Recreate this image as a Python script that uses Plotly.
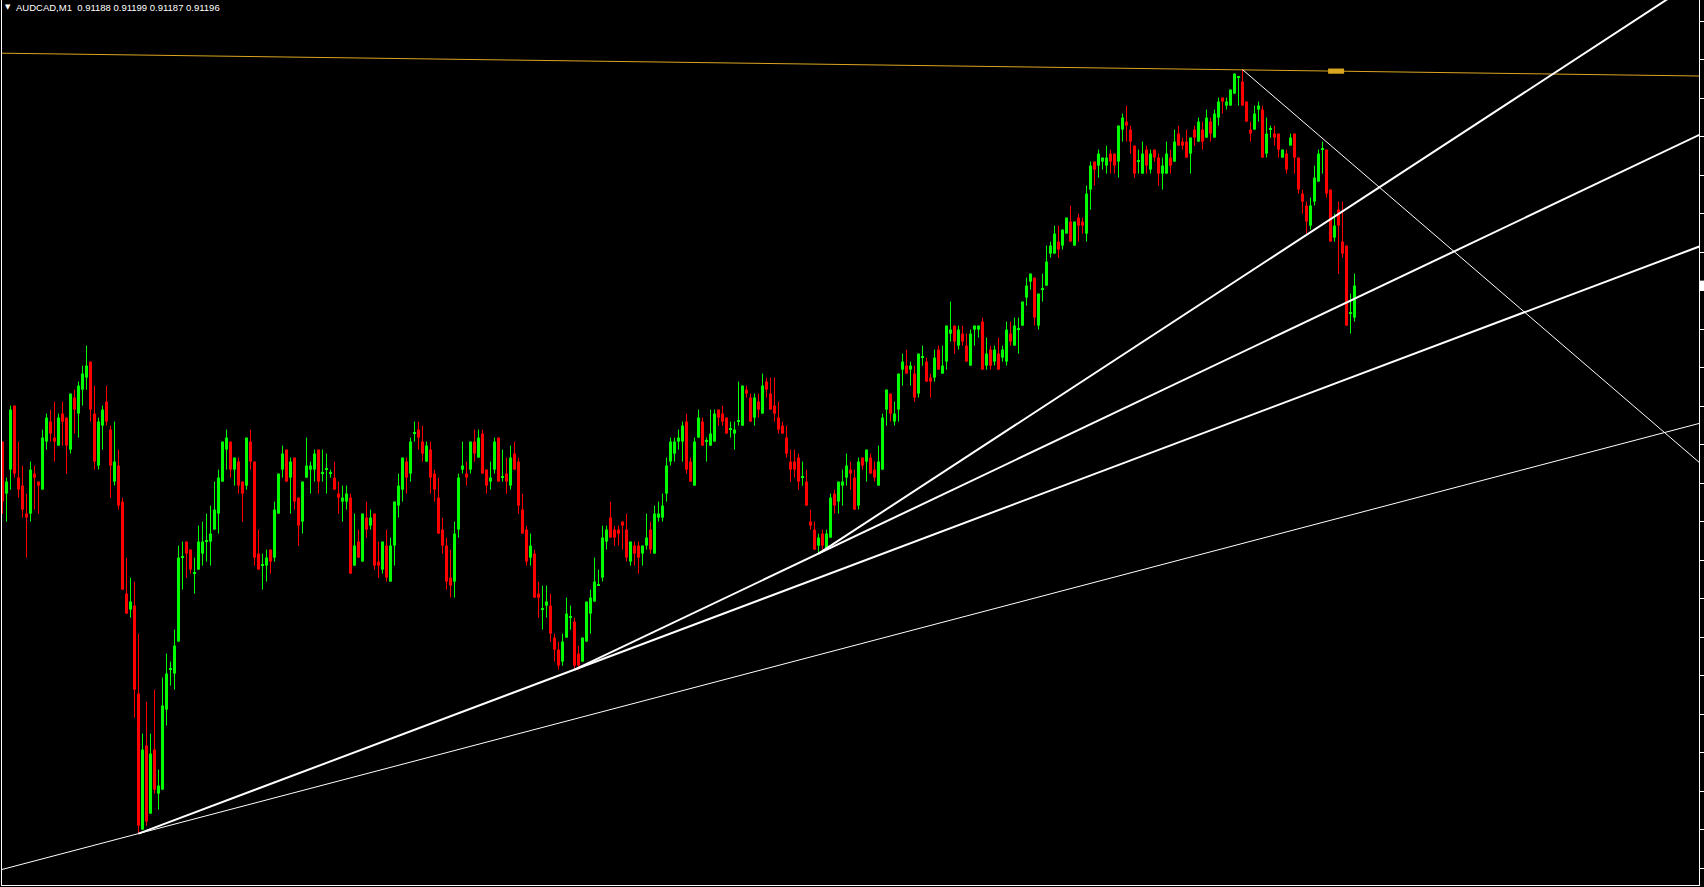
import plotly.graph_objects as go

SYMBOL = "AUDCAD"
TIMEFRAME = "M1"
PRICE_BASE = 0.91      # prices below are stored as points above this base
POINT = 0.00001

open_pts = [
    157,144,150,166,148,146,139,139,149,147, 145,157,162,158,156,164,163,155,168,164,
    170,173,177,164,151,161,167,160,147,151, 142,119,115,116,94,60,81,64,80,69,
    70,90,100,99,107,128,132,130,124,125, 129,132,132,135,139,147,155,157,150,152,
    147,146,157,152,129,126,126,130,128,139, 150,155,148,153,143,137,148,150,150,155,
    149,150,149,148,144,142,142,143,126,132, 127,138,136,139,127,125,131,122,131,141,
    145,152,149,159,160,157,152,155,149,143, 135,131,123,122,135,150,149,150,157,153,
    159,150,147,150,158,148,149,146,154,152, 140,135,128,129,119,115,116,116,108,105,
    102,108,113,112,104,102,107,114,117,121, 123,132,138,135,135,137,135,127,131,131,
    129,131,135,129,138,138,144,152,154,157, 157,162,152,146,158,162,157,156,157,165,
    164,163,160,159,162,161,170,168,163,167, 164,172,169,166,163,161,158,152,152,153,
    148,147,137,135,131,134,130,133,144,142, 146,148,150,148,141,153,152,153,150,146,
    150,165,169,162,165,175,176,175,174,169, 178,177,173,173,180,174,177,184,186,181,
    184,181,176,185,185,187,176,180,177,179, 178,177,184,181,185,186,193,197,198,186,
    195,196,204,204,207,206,209,212,206,213, 212,209,220,227,226,227,226,229,229,227,
    235,237,235,231,227,224,230,225,230,228, 224,224,228,227,234,232,232,229,235,232,
    235,233,237,233,238,243,241,241,244,248, 247,242,235,235,240,240,229,235,234,234,
    228,229,231,234,228,219,216,211,217,222, 230,230,220,208,215,207,206,189,188,
]
high_pts = [
    157,148,166,166,157,151,144,152,151,147, 160,164,165,167,164,167,163,169,170,172,
    176,181,177,171,163,166,171,161,162,155, 143,128,123,122,109,84,92,84,95,75,
    98,104,102,110,131,132,132,130,128,136, 137,139,141,147,150,157,160,157,153,153,
    147,158,160,152,135,129,130,130,142,149, 156,155,153,153,143,147,158,152,155,155,
    155,154,150,152,147,146,146,144,139,135, 139,142,140,139,132,132,135,133,142,149,
    153,153,158,162,162,161,157,157,150,148, 138,133,130,137,149,157,152,157,160,160,
    160,150,152,158,158,155,153,156,157,153, 144,136,134,130,122,121,121,119,109,107,
    109,118,116,113,106,108,117,120,128,125, 136,136,142,136,136,137,139,132,132,132,
    131,139,137,141,142,144,153,158,158,160, 162,164,153,158,165,163,158,165,165,165,
    166,163,162,162,172,171,171,169,169,169, 174,173,173,173,167,162,161,155,155,154,
    152,150,140,137,134,135,135,144,145,147, 150,154,152,150,153,153,155,154,152,156,
    164,170,169,167,174,179,180,177,176,179, 181,178,174,180,181,181,186,192,186,186,
    186,184,185,186,186,188,183,181,181,183, 181,187,187,188,188,192,198,199,198,194,
    199,206,207,211,211,210,213,216,212,214, 213,221,227,227,230,228,231,230,229,236,
    239,241,236,231,230,232,231,230,230,229, 228,232,230,235,236,233,235,233,236,238,
    237,240,238,240,243,243,243,245,249,248, 250,242,237,241,242,241,238,236,236,234,
    230,230,234,234,228,220,217,218,226,230, 232,230,220,214,217,217,206,194,199,
]
low_pts = [
    139,137,145,148,143,138,128,137,140,139, 145,155,157,152,156,156,149,154,159,158,
    166,170,162,150,150,155,161,143,146,140, 120,114,113,88,59,60,61,64,69,65,
    70,86,96,95,107,120,123,124,119,125, 126,127,126,135,134,147,150,148,146,144,
    137,145,150,126,125,120,122,124,127,139, 148,147,139,140,131,134,148,144,147,144,
    147,144,148,145,139,137,140,124,126,128, 127,133,135,125,123,124,122,122,126,138,
    142,144,147,157,155,152,152,144,142,134, 129,120,118,118,133,149,146,149,152,153,
    149,144,145,149,147,147,144,145,150,139, 134,126,126,118,113,110,113,107,102,100,
    101,108,110,100,100,102,107,109,117,121, 122,130,133,131,131,130,127,126,126,124,
    126,130,129,129,137,137,142,151,152,155, 152,149,147,146,158,156,152,156,157,161,
    161,159,158,155,161,161,168,162,161,163, 164,168,165,162,159,159,153,147,148,145,
    146,141,135,130,129,130,130,133,139,139, 141,146,145,140,140,150,147,149,147,146,
    150,161,162,161,162,171,174,171,167,168, 176,172,168,172,175,174,175,182,179,180,
    181,177,176,181,183,175,175,175,176,175, 177,176,181,181,179,186,191,195,186,185,
    192,196,203,204,203,205,209,207,206,207, 209,207,215,221,223,225,224,224,224,223,
    232,232,229,223,224,224,224,224,227,221, 220,224,224,227,231,230,228,224,231,232,
    230,233,232,233,236,239,240,241,244,241, 241,237,232,235,237,228,228,233,231,228,
    228,224,231,224,219,214,209,210,216,222, 224,218,207,207,199,203,186,184,187,
]
close_pts = [
    142,147,165,149,145,140,138,150,148,146, 158,163,159,157,163,162,156,169,165,171,
    174,176,165,152,162,165,162,151,152,141, 120,114,117,95,61,80,62,79,70,71,
    91,99,100,106,128,128,129,125,124,132, 132,132,134,140,148,157,158,150,153,146,
    144,158,152,128,125,126,128,127,140,149, 154,147,152,142,136,147,151,151,154,147,
    149,150,149,145,143,143,144,124,131,128, 139,135,138,126,126,132,123,131,142,146,
    153,148,157,159,158,154,156,148,145,134, 131,122,121,134,148,151,148,157,154,158,
    149,146,148,157,147,148,147,153,150,141, 134,127,131,118,118,115,117,109,105,101,
    107,114,113,101,101,108,117,118,122,121, 133,135,133,133,134,136,128,132,129,128,
    131,133,130,139,139,141,151,157,157,158, 161,150,147,157,163,156,157,159,164,163,
    162,159,160,160,162,171,169,162,168,165, 171,170,165,164,160,159,154,150,150,147,
    148,141,136,130,133,131,134,143,141,147, 147,151,149,140,152,151,155,149,148,152,
    163,170,164,164,174,177,174,176,168,179, 178,172,172,178,175,176,186,185,182,185,
    182,177,184,186,186,175,179,176,180,175, 180,185,182,186,185,192,196,199,188,194,
    195,202,206,209,205,210,213,207,212,211, 211,219,226,225,229,228,228,227,226,236,
    238,236,232,224,227,229,226,229,228,224, 226,229,226,232,231,231,228,233,233,237,
    232,238,234,239,242,242,242,245,249,248, 241,237,234,239,241,228,234,235,233,230,
    230,225,233,228,220,217,212,216,223,229, 230,219,207,211,211,204,186,189,196,
]

n = len(close_pts)
assert len(open_pts) == n and len(high_pts) == n and len(low_pts) == n, (len(open_pts), len(high_pts), len(low_pts), n)

# Trendline anchors: (bar index, points above base); mode: 'line' extends both ways, 'ray' extends right
trend_orange = {"bars": [0, 424], "pts": [254.1, 248.4], "mode": "line"}
trend_fall = {"bars": [310, 330], "pts": [250, 232.8], "mode": "ray"}
trend_thin_up = {"bars": [34, 424], "pts": [59, 161.5], "mode": "line"}
trend_l1 = {"bars": [34, 143], "pts": [59, 100], "mode": "ray"}
trend_l2 = {"bars": [143, 204], "pts": [100, 129], "mode": "ray"}
trend_l3 = {"bars": [204, 300], "pts": [129, 191.7], "mode": "ray"}

# view: bars shown to the right of the last candle (chart shift)
X_MIN, X_MAX = -0.125, 424.125
Y_MIN_PTS, Y_MAX_PTS = 46.15, 267.4
TICK0_PTS, TICK_STEP_PTS = 262.15, 9.625

def price(p):
    return PRICE_BASE + p * POINT

opens = [price(v) for v in open_pts]
highs = [price(v) for v in high_pts]
lows = [price(v) for v in low_pts]
closes = [price(v) for v in close_pts]
bars = list(range(n))

UP = "#00FF00"
DOWN = "#FF0000"

fig = go.Figure()

for is_up, col in ((True, UP), (False, DOWN)):
    idx = [i for i in bars if (closes[i] >= opens[i]) == is_up]
    wx, wy = [], []
    for i in idx:
        wx += [i, i, None]
        wy += [lows[i], highs[i], None]
    fig.add_trace(go.Scatter(x=wx, y=wy, mode="lines", line=dict(color=col, width=1),
                             hoverinfo="skip", showlegend=False))
    base = [min(opens[i], closes[i]) for i in idx]
    height = [max(abs(closes[i] - opens[i]), 0.25 * POINT) for i in idx]
    fig.add_trace(go.Bar(x=idx, y=height, base=base, width=0.75,
                         marker=dict(color=col, line=dict(width=0)),
                         hoverinfo="skip", showlegend=False))

def line_pts(t):
    (x0, x1), (y0, y1) = t["bars"], t["pts"]
    slope = (y1 - y0) / (x1 - x0)
    xs = X_MIN - 2 if t["mode"] == "line" else x0
    xe = X_MAX + 2
    return [xs, xe], [price(y0 + slope * (xs - x0)), price(y0 + slope * (xe - x0))]

for t, col, w in ((trend_orange, "#DAA520", 1), (trend_thin_up, "#FFFFFF", 1),
                  (trend_fall, "#FFFFFF", 1), (trend_l1, "#FFFFFF", 2),
                  (trend_l2, "#FFFFFF", 2), (trend_l3, "#FFFFFF", 2)):
    lx, ly = line_pts(t)
    fig.add_trace(go.Scatter(x=lx, y=ly, mode="lines", line=dict(color=col, width=w),
                             hoverinfo="skip", showlegend=False))

# small selected-object handle on the orange line
(ox0, ox1), (oy0, oy1) = trend_orange["bars"], trend_orange["pts"]
hx = 333.4
hy = oy0 + (oy1 - oy0) / (ox1 - ox0) * (hx - ox0)
shapes = [
    dict(type="rect", xref="x", yref="y", x0=hx - 2, x1=hx + 2,
         y0=price(hy - 0.65), y1=price(hy + 0.65), fillcolor="#DAA520", line=dict(width=0)),
    dict(type="rect", xref="paper", yref="y", xsizemode="pixel", xanchor=1, x0=1, x1=6,
         y0=price(close_pts[-1] - 1.25), y1=price(close_pts[-1] + 1.25),
         fillcolor="#FFFFFF", line=dict(width=0)),
]

header = f"{SYMBOL},{TIMEFRAME}\u00a0\u00a0{opens[-1]:.5f} {highs[-1]:.5f} {lows[-1]:.5f} {closes[-1]:.5f}"

fig.update_layout(
    width=1704, height=887, autosize=False,
    margin=dict(l=2, r=5, t=0, b=2, pad=0),
    paper_bgcolor="#000000", plot_bgcolor="#000000",
    barmode="overlay", showlegend=False, hovermode=False,
    shapes=shapes,
    annotations=[
        dict(text="▼", xref="paper", yref="paper", x=0, y=1, xanchor="left", yanchor="top",
             xshift=1, yshift=-1, showarrow=False, font=dict(color="#FFFFFF", size=7,
             family="DejaVu Sans")),
        dict(text=header, xref="paper", yref="paper", x=0, y=1, xanchor="left", yanchor="top",
             xshift=12, yshift=0, showarrow=False,
             font=dict(color="#FFFFFF", size=9.5, family="Liberation Sans")),
    ],
    xaxis=dict(range=[X_MIN, X_MAX], showgrid=False, zeroline=False, showticklabels=False,
               ticks="", showline=True, linecolor="#FFFFFF", linewidth=1, fixedrange=True),
    yaxis=dict(range=[price(Y_MIN_PTS), price(Y_MAX_PTS)], side="right", showgrid=False,
               zeroline=False, showticklabels=False, ticks="outside", ticklen=4,
               tickcolor="#FFFFFF", tickwidth=1, tickmode="linear",
               tick0=price(TICK0_PTS), dtick=TICK_STEP_PTS * POINT,
               showline=True, mirror=True, linecolor="#FFFFFF", linewidth=1, fixedrange=True),
)

fig.write_html("out.html", config={"displayModeBar": False},
               post_script="document.body.style.margin='0';document.body.style.overflow='hidden';")
